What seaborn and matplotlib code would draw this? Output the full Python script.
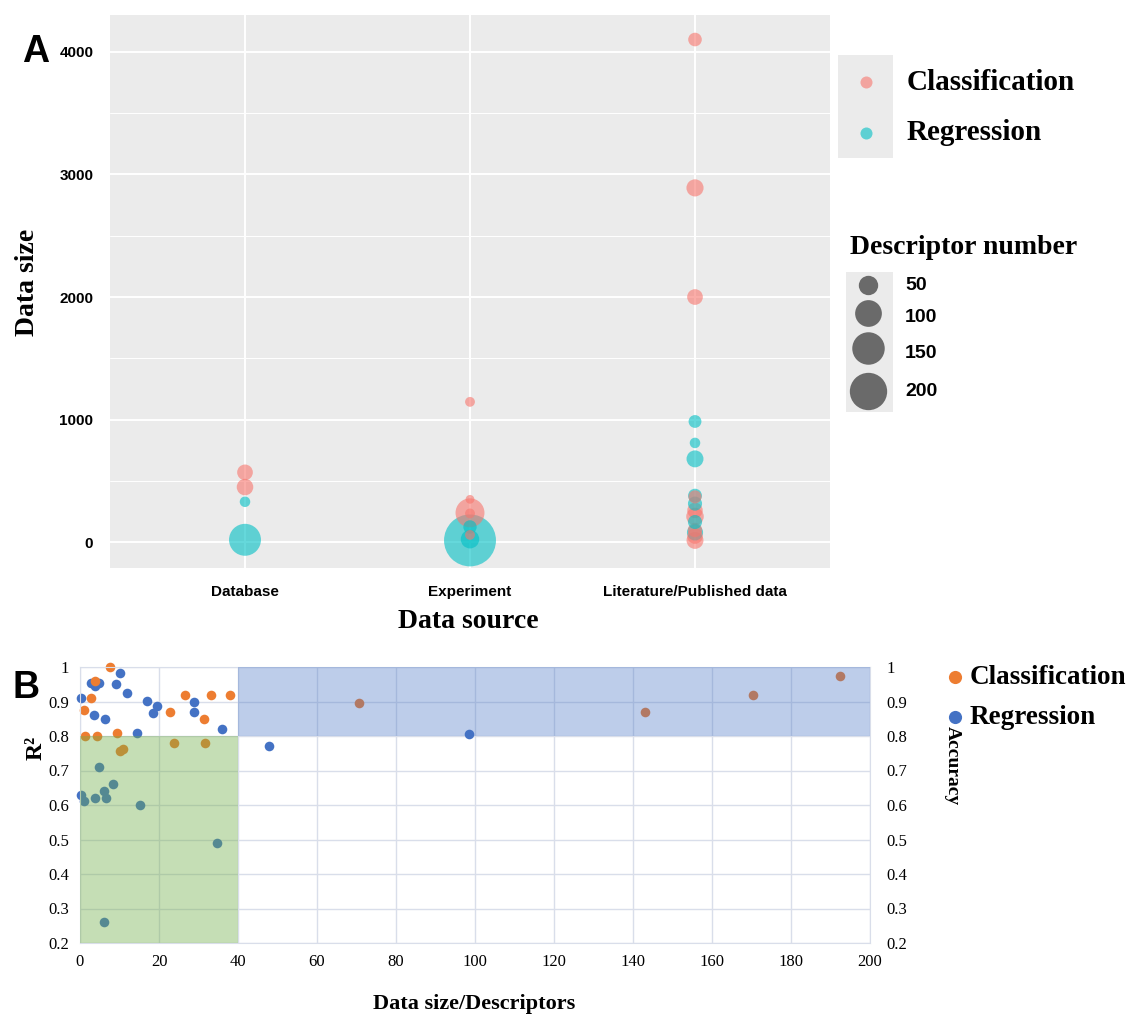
import numpy as np
import pandas as pd
import seaborn as sns
import matplotlib.pyplot as plt
from matplotlib.patches import Rectangle

# ---- Panel A data: data source vs data size, sized by descriptor number ----
sources = ["Database", "Experiment", "Literature/Published data"]
a_source = ["Database"] * 4 + ["Experiment"] * 8 + ["Literature/Published data"] * 16
a_task = ["Classification", "Classification", "Regression", "Regression",
          "Classification", "Classification", "Classification", "Classification",
          "Regression", "Classification", "Regression", "Regression",
          "Classification", "Classification", "Classification", "Regression",
          "Regression", "Regression", "Regression", "Classification",
          "Regression", "Classification", "Classification", "Regression",
          "Classification", "Regression", "Classification", "Classification"]
a_size = [570, 450, 330, 20,
          1145, 350, 240, 235, 125, 60, 25, 15,
          4100, 2890, 2000, 985, 810, 680, 380, 370,
          315, 260, 210, 165, 100, 80, 50, 15]
a_desc = [31, 35, 11, 145,
          9, 6, 118, 9, 21, 9, 45, 392,
          22, 38, 31, 19, 11, 37, 23, 20,
          24, 30, 40, 24, 25, 33, 30, 37]

# ---- Panel B data: data size/descriptors vs R2 / accuracy ----
b_cls_x = [7.6, 3.7, 2.7, 1.1, 1.2, 4.2, 9.3, 10.0, 11.0, 26.6, 33.2, 38.1,
           22.8, 31.5, 23.9, 31.6, 70.7, 143.1, 170.4, 192.3]
b_cls_y = [1.0, 0.96, 0.909, 0.875, 0.80, 0.80, 0.81, 0.757, 0.763, 0.92, 0.92, 0.92,
           0.869, 0.849, 0.779, 0.779, 0.896, 0.870, 0.918, 0.974]
b_reg_x = [10.0, 2.7, 4.8, 3.8, 9.2, 11.8, 0.3, 3.5, 6.3, 14.5, 17.0, 19.6, 18.6, 28.9,
           28.9, 35.9, 0.25, 4.7, 8.4, 6.2, 1.1, 3.9, 6.6, 15.2, 34.6, 6.2, 47.9, 98.6]
b_reg_y = [0.984, 0.955, 0.953, 0.946, 0.95, 0.925, 0.909, 0.86, 0.85, 0.81, 0.902, 0.887,
           0.866, 0.90, 0.87, 0.819, 0.63, 0.709, 0.66, 0.64, 0.611, 0.62, 0.62, 0.60,
           0.489, 0.262, 0.772, 0.805]
legend_desc = [50, 100, 150, 200]

sns.set_style("white")
plt.rcParams['font.family'] = ['Liberation Sans', 'DejaVu Sans']
plt.rcParams['text.color'] = 'black'
plt.rcParams['xtick.color'] = 'black'
plt.rcParams['ytick.color'] = 'black'
SERIF = ['Liberation Serif', 'DejaVu Serif']

W, H = 1131, 1031
fig = plt.figure(figsize=(W / 100, H / 100), dpi=100)


def box(l, t, r, b):
    return [l / W, 1 - b / H, (r - l) / W, (b - t) / H]


def desc_to_s(n):
    # marker area (pt^2) grows linearly with descriptor number
    return 2.07 * (9 + 1.7 * n)


pal_a = {"Classification": "#F8766D", "Regression": "#00BFC4"}

# ---------------- Panel A ----------------
axA = fig.add_axes(box(110, 15, 830, 568))
dfA = pd.DataFrame({"pos": [sources.index(s) for s in a_source], "Size": a_size,
                    "Task": a_task, "Descriptors": a_desc})
dfA = dfA.sort_values("Descriptors", ascending=False)
sns.scatterplot(data=dfA, x="pos", y="Size", hue="Task", size="Descriptors",
                sizes=(desc_to_s(0), desc_to_s(400)), size_norm=(0, 400),
                palette=pal_a, alpha=0.6, linewidth=0, legend=False, ax=axA)
axA.set_facecolor("#EBEBEB")
axA.set_xlim(-0.6, 2.6)
axA.set_ylim(-210, 4300)
axA.set_xticks(range(len(sources)))
axA.set_xticklabels(sources)
axA.set_yticks([0, 1000, 2000, 3000, 4000])
axA.set_yticks([500, 1500, 2500, 3500], minor=True)
axA.grid(which='major', color='white', lw=1.4)
axA.grid(which='minor', axis='y', color='white', lw=0.7)
axA.set_axisbelow(True)
for sp in axA.spines.values():
    sp.set_visible(False)
axA.tick_params(which='minor', length=0)
axA.tick_params(which='major', length=3, color='#333333', labelsize=11, pad=9,
                labelcolor='black')
for lab in axA.get_xticklabels() + axA.get_yticklabels():
    lab.set_fontweight('bold')
axA.set_xlabel("")
axA.set_ylabel("")

# ---------------- Panel B ----------------
axB = fig.add_axes(box(80, 667, 870, 943))
sns.scatterplot(x=b_reg_x, y=b_reg_y, color="#4472C4", s=48, linewidth=0,
                ax=axB, zorder=2, clip_on=False)
sns.scatterplot(x=b_cls_x, y=b_cls_y, color="#ED7D31", s=48, linewidth=0,
                ax=axB, zorder=2, clip_on=False)
axB.add_patch(Rectangle((0, 0.2), 40, 0.6, facecolor="#70AD47", alpha=0.4, lw=0, zorder=3))
axB.add_patch(Rectangle((40, 0.8), 160, 0.2, facecolor="#4472C4", alpha=0.35, lw=0, zorder=3))
axB.set_xlim(0, 200)
axB.set_ylim(0.2, 1.0)
yt = np.round(np.arange(0.2, 1.01, 0.1), 1)
ylabs = ["1" if v == 1 else f"{v:.1f}" for v in yt]
axB.set_xticks(range(0, 201, 20))
axB.set_yticks(yt)
axB.set_yticklabels(ylabs)
axB.grid(color="#D9DEEA", lw=1)
axB.set_axisbelow(True)
for sp in axB.spines.values():
    sp.set_color("#D9DEEA")
axB.tick_params(length=0, labelsize=12, pad=8, labelcolor='black')
for lab in axB.get_xticklabels() + axB.get_yticklabels():
    lab.set_fontfamily(SERIF)

axR = axB.twinx()
axR.set_ylim(0.2, 1.0)
axR.set_yticks(yt)
axR.set_yticklabels(ylabs)
axR.tick_params(length=0, labelsize=12, pad=12, labelcolor='black')
for sp in axR.spines.values():
    sp.set_visible(False)
for lab in axR.get_yticklabels():
    lab.set_fontfamily(SERIF)

# ---------------- labels and legends (pixel overlay) ----------------
ov = fig.add_axes([0, 0, 1, 1])
ov.set_xlim(0, W)
ov.set_ylim(H, 0)
ov.axis('off')

ov.text(36, 52, "A", fontsize=27, fontweight='bold', ha='center', va='center')
ov.text(26, 688, "B", fontsize=27, fontweight='bold', ha='center', va='center')

ov.text(27, 282, "Data size", rotation=90, fontsize=20, fontweight='bold',
        family=SERIF, ha='center', va='center')
ov.text(468, 622, "Data source", fontsize=20, fontweight='bold', family=SERIF,
        ha='center', va='center')
ov.text(474, 1004, "Data size/Descriptors", fontsize=16, fontweight='bold',
        family=SERIF, ha='center', va='center')
ov.text(36, 748, "R²", rotation=90, fontsize=17, fontweight='bold', family=SERIF,
        ha='center', va='center')
ov.text(952, 766, "Accuracy", rotation=270, fontsize=14, fontweight='bold',
        family=SERIF, ha='center', va='center')

# task legend (panel A)
ov.add_patch(Rectangle((838, 55), 55, 103, facecolor="#EBEBEB", lw=0))
for yy, task in zip([82, 133], ["Classification", "Regression"]):
    ov.scatter([866], [yy], s=75, color=pal_a[task], alpha=0.6, linewidth=0)
    ov.text(907, yy, task, fontsize=21, fontweight='bold', family=SERIF, va='center')

# descriptor size legend (panel A)
ov.text(850, 247, "Descriptor number", fontsize=20, fontweight='bold', family=SERIF,
        va='center')
ov.add_patch(Rectangle((846, 272), 47, 140, facecolor="#EBEBEB", lw=0))
for yy, ly, n in zip([285, 313, 348, 391], [285, 318, 353, 391], legend_desc):
    ov.scatter([868], [yy], s=desc_to_s(n), color="#6A6A6A", linewidth=0)
    ov.text(905, ly, str(n), fontsize=14, fontweight='bold', va='center')

# task legend (panel B)
for yy, task, col in zip([677, 717], ["Classification", "Regression"], ["#ED7D31", "#4472C4"]):
    ov.scatter([955], [yy], s=90, color=col, linewidth=0)
    ov.text(970, yy, task, fontsize=19.5, fontweight='bold', family=SERIF, va='center')

fig.savefig("out.png", dpi=100)
